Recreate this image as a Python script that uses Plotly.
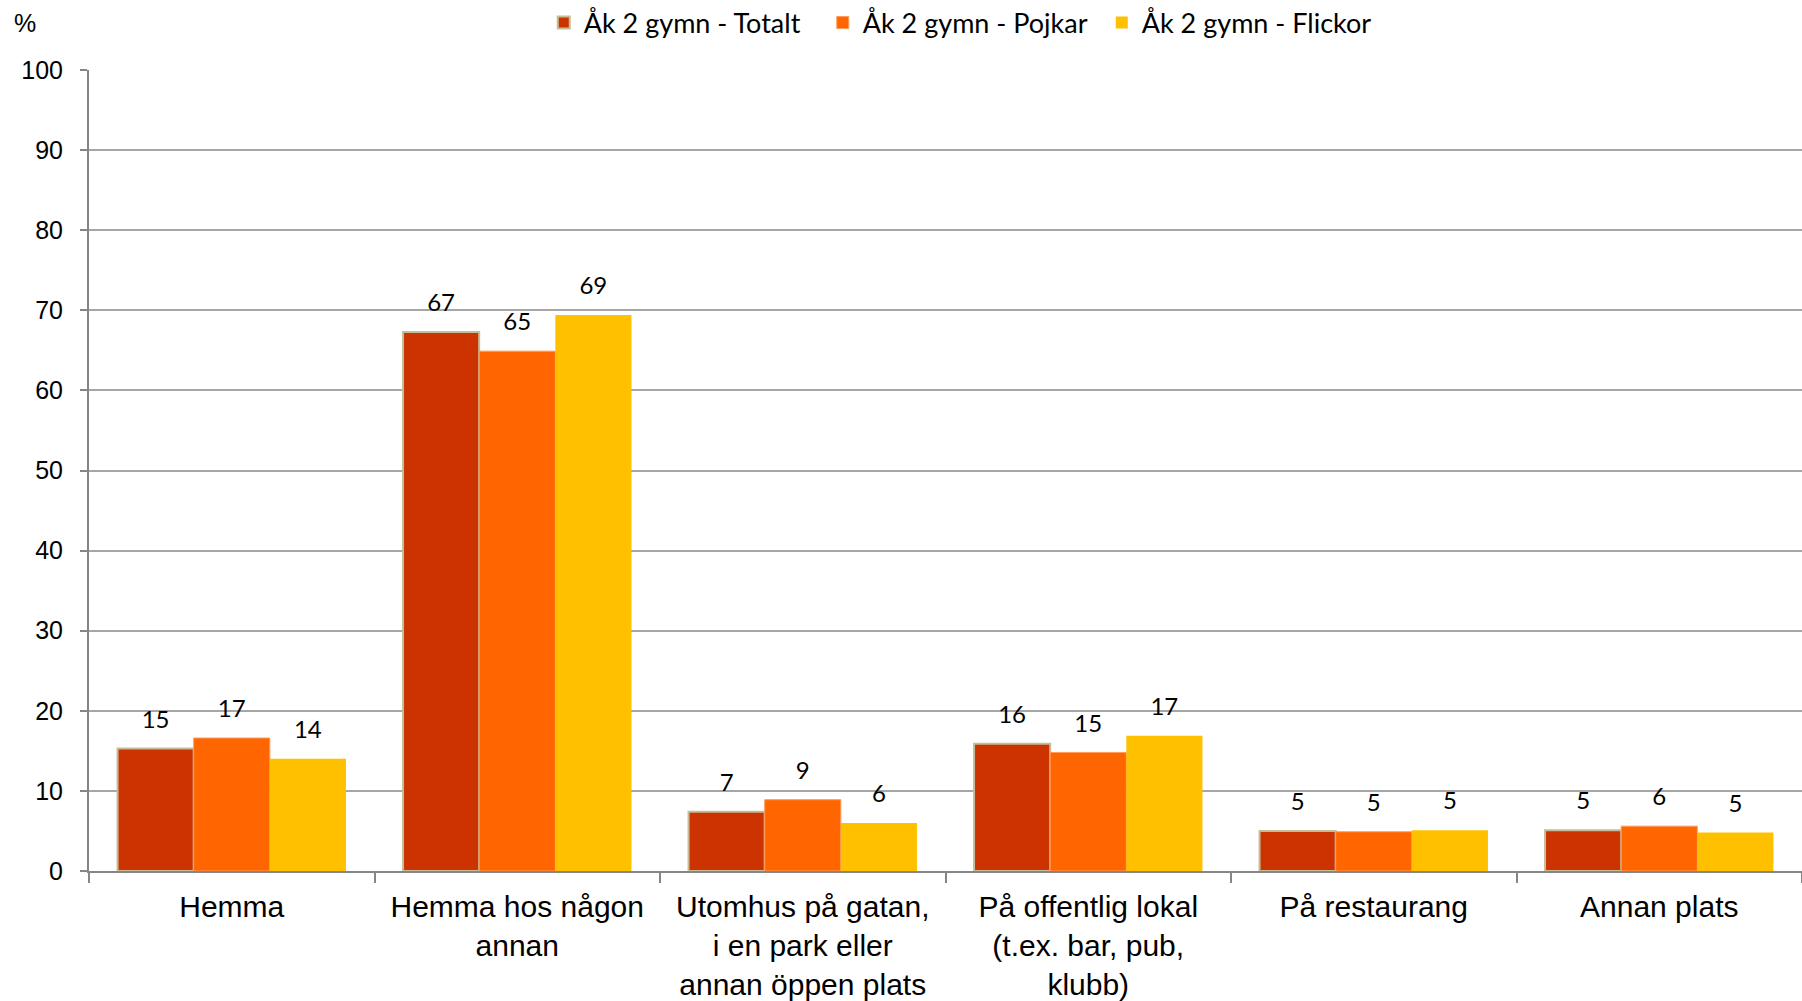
import plotly.graph_objects as go

categories = [
    "Hemma",
    "Hemma hos någon<br>annan",
    "Utomhus på gatan,<br>i en park eller<br>annan öppen plats",
    "På offentlig lokal<br>(t.ex. bar, pub,<br>klubb)",
    "På restaurang",
    "Annan plats",
]
series_names = ["Åk 2 gymn - Totalt", "Åk 2 gymn - Pojkar", "Åk 2 gymn - Flickor"]
totalt = [15.3, 67.3, 7.4, 15.9, 5.0, 5.1]
pojkar = [16.6, 64.9, 8.9, 14.8, 4.9, 5.6]
flickor = [14.0, 69.4, 6.0, 16.9, 5.1, 4.8]
y_ticks = list(range(0, 101, 10))

colors = ["#CC3300", "#FF6600", "#FFC000"]
line_colors = ["#C4BD97", "#FF9A5C", "#FFC000"]
line_widths = [2, 1, 0]
values = [totalt, pojkar, flickor]

fig = go.Figure()
for i, (name, vals) in enumerate(zip(series_names, values)):
    fig.add_trace(go.Bar(
        x=categories, y=vals, name=name,
        offsetgroup=str(i), alignmentgroup="g",
        marker=dict(color=colors[i], line=dict(color=line_colors[i], width=line_widths[i])),
    ))
for i, vals in enumerate(values):
    fig.add_trace(go.Scatter(
        x=categories, y=vals, mode="markers+text",
        offsetgroup=str(i), alignmentgroup="g",
        text=[f"{v:.0f}" for v in vals], textposition="top center",
        textfont=dict(family="Lato, DejaVu Sans", size=24, color="black"),
        marker=dict(size=22, opacity=0),
        showlegend=False, hoverinfo="skip",
    ))

fig.update_layout(
    width=1802, height=1001,
    margin=dict(l=89, r=0, t=70, b=130),
    paper_bgcolor="white", plot_bgcolor="white",
    barmode="group", scattermode="group",
    bargap=0.2, bargroupgap=0,
    legend=dict(
        orientation="h", xref="container", yref="container",
        x=0.534, xanchor="center", y=0.977, yanchor="middle",
        font=dict(family="Lato, DejaVu Sans", size=27, color="black"),
        traceorder="normal", entrywidth=234,
    ),
    xaxis=dict(
        type="category", showline=True, linecolor="#868686", linewidth=2,
        ticks="outside", tickson="boundaries", ticklen=10, tickcolor="#868686", tickwidth=2,
        tickfont=dict(family="Liberation Sans, Arial", size=30, color="black"),
        ticklabelstandoff=8,
        showgrid=False,
    ),
    yaxis=dict(
        range=[0, 100], tickvals=y_ticks, ticks="outside", ticklen=7,
        tickcolor="#868686", tickwidth=2,
        showline=True, linecolor="#868686", linewidth=2,
        showgrid=True, gridcolor="#A6A6A6", gridwidth=2, zeroline=False,
        tickfont=dict(family="Liberation Sans, Arial", size=25, color="black"),
        ticklabelstandoff=12,
    ),
    annotations=[dict(
        text="%", xref="paper", yref="paper", x=0, y=1, xanchor="right", yanchor="middle",
        xshift=-51, yshift=47, showarrow=False,
        font=dict(family="Liberation Sans, Arial", size=25, color="black"),
    )],
)

fig.write_html(
    "out.html",
    config={"displayModeBar": False},
    post_script="document.body.style.margin='0px';document.body.style.overflow='hidden';",
)
